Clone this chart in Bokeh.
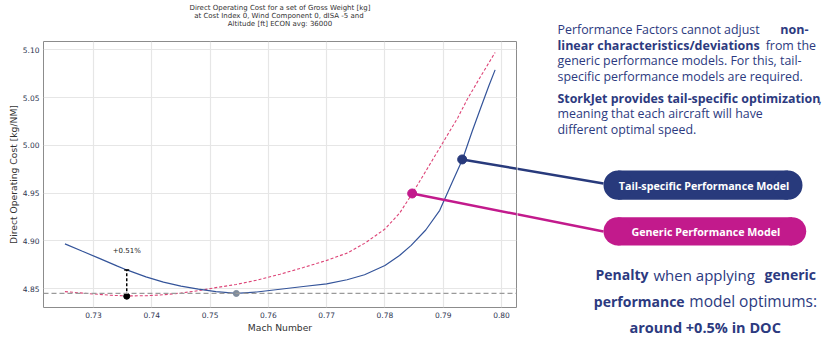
from bokeh.plotting import figure
from bokeh.layouts import row, column
from bokeh.models import Range1d, FixedTicker, PrintfTickFormatter, Span
from bokeh.core.properties import value
from bokeh.embed import file_html
from bokeh.resources import INLINE

# ---------------- data ----------------
mach_tail = [0.7251, 0.7280, 0.7310, 0.7340, 0.7357, 0.7390, 0.7420, 0.7450, 0.7480,
             0.7510, 0.7545, 0.7580, 0.7620, 0.7660, 0.7700, 0.7735, 0.7765, 0.7800,
             0.7825, 0.7845, 0.7870, 0.7894, 0.7915, 0.7933, 0.7950, 0.7965, 0.7978, 0.7989]
doc_tail = [4.8970, 4.8895, 4.8818, 4.8740, 4.8697, 4.8625, 4.8569, 4.8528, 4.8497,
            4.8470, 4.8451, 4.8466, 4.8495, 4.8524, 4.8552, 4.8594, 4.8647, 4.8744,
            4.8848, 4.8954, 4.9115, 4.9321, 4.9610, 4.9853, 5.0153, 5.0405, 5.0619, 5.0790]

mach_generic = [0.7251, 0.7290, 0.7330, 0.7357, 0.7390, 0.7420, 0.7450, 0.7480, 0.7510,
                0.7545, 0.7580, 0.7620, 0.7660, 0.7700, 0.7735, 0.7765, 0.7800, 0.7825,
                0.7847, 0.7870, 0.7900, 0.7925, 0.7941, 0.7965, 0.7989]
doc_generic = [4.8470, 4.8450, 4.8432, 4.8425, 4.8427, 4.8437, 4.8455, 4.8480, 4.8512,
               4.8545, 4.8590, 4.8652, 4.8722, 4.8797, 4.8873, 4.8975, 4.9125, 4.9290,
               4.9497, 4.9730, 5.0035, 5.0290, 5.0480, 5.0730, 5.0972]

x_ticks = [0.73, 0.74, 0.75, 0.76, 0.77, 0.78, 0.79, 0.80]
y_ticks = [4.85, 4.90, 4.95, 5.00, 5.05, 5.10]
x_limits = (0.72142, 0.80257)
y_limits = (4.8304, 5.1087)

tail_opt = (0.7545, 4.8451)            # optimum of tail-specific model
generic_opt = (0.7357, 4.8422)         # optimum of generic model
tail_doc_at_generic_opt = 4.8697       # tail DOC when flying the generic optimum
penalty_text = "+0.51%"
tail_callout = (0.79325, 4.9853)
generic_callout = (0.78467, 4.9497)

title_lines = ["Direct Operating Cost for a set of Gross Weight [kg]",
               "at Cost Index 0,  Wind Component 0, dISA -5 and",
               "Altitude [ft] ECON avg: 36000"]

pill_labels = ["Tail-specific Performance Model", "Generic Performance Model"]

# (text, bold, anchor x px, centre y px, size px, align)
info_segments = [
    ("Performance Factors cannot adjust", False, 557, 29.3, 12.4, "left"),
    ("non-", True, 808, 29.3, 12.5, "right"),
    ("linear characteristics/deviations", True, 557, 44.5, 12.5, "left"),
    ("from the", False, 815.5, 44.5, 12.4, "right"),
    ("generic performance models. For this, tail-", False, 557, 60, 12.4, "left"),
    ("specific performance models are required.", False, 557, 75.5, 12.4, "left"),
    ("StorkJet provides tail-specific optimization", True, 557, 98, 12.4, "left"),
    (",", False, 818, 98, 12.4, "left"),
    ("meaning that each aircraft will have", False, 557, 113, 12.4, "left"),
    ("different optimal speed.", False, 557, 128.5, 12.4, "left"),
    ("Penalty", True, 595, 274, 14, "left"),
    ("when applying", False, 653, 274, 15, "left"),
    ("generic", True, 815.5, 274, 14, "right"),
    ("performance", True, 593.3, 300.7, 14, "left"),
    ("model optimums:", False, 816.5, 300.7, 15.5, "right"),
    ("around +0.5% in DOC", True, 704.7, 326.7, 14.5, "center"),
]

# ---------------- styles / geometry ----------------
NAVY = "#283a7c"
MAGENTA = "#c21a8c"
TXT = "#2c3a80"
BLUE_LINE = "#34549a"
RED_LINE = "#dd4477"

W, H = 823, 339
TITLE_H = 40
FL, FR, FT, FB = 43, 516, 41, 307      # chart frame edges, page pixels
CHART_W = FR + 1
PANEL_X0 = CHART_W


def x2sx(x):
    return FL + (x - x_limits[0]) / (x_limits[1] - x_limits[0]) * (FR - FL)


def y2sy(y):
    return FB - (y - y_limits[0]) / (y_limits[1] - y_limits[0]) * (FB - FT)


def sx2x(sx):
    return x_limits[0] + (sx - FL) / (FR - FL) * (x_limits[1] - x_limits[0])


def sy2y(sy):
    return y_limits[0] + (FB - sy) / (FB - FT) * (y_limits[1] - y_limits[0])


def blank(width, height, left=0, right=None):
    right = width if right is None else right
    f = figure(width=width, height=height, output_backend="svg", toolbar_location=None,
               x_range=Range1d(left, right), y_range=Range1d(height, 0),
               x_axis_location=None, y_axis_location=None,
               min_border_left=left, min_border_right=width - right,
               min_border_top=0, min_border_bottom=0,
               background_fill_color="white", border_fill_color="white")
    f.grid.visible = False
    f.outline_line_color = None
    return f


# ---------------- title strip (frame aligned with the chart frame) ----------------
tf = blank(CHART_W, TITLE_H, left=FL, right=FR)
tf.text(x=[279.5] * 3, y=[7.3, 15.3, 23.3], text=title_lines, text_align="center",
        text_baseline="middle", text_font=value("DejaVu Sans"), text_font_size="7px",
        text_color="#333333")

# ---------------- chart ----------------
p = figure(width=CHART_W, height=H - TITLE_H, output_backend="svg", toolbar_location=None,
           x_range=Range1d(*x_limits), y_range=Range1d(*y_limits),
           min_border_left=FL, min_border_right=CHART_W - FR, min_border_top=FT - TITLE_H,
           min_border_bottom=H - FB, background_fill_color="white",
           border_fill_color="white")

p.outline_line_color = "#8c8c8c"
p.outline_line_width = 1
for g in (p.xgrid, p.ygrid):
    g.grid_line_color = "#e6e6e6"
    g.grid_line_width = 1.2

p.xaxis.ticker = FixedTicker(ticks=x_ticks)
p.yaxis.ticker = FixedTicker(ticks=y_ticks)
p.xaxis.formatter = PrintfTickFormatter(format="%.2f")
p.yaxis.formatter = PrintfTickFormatter(format="%.2f")
for ax in (p.xaxis, p.yaxis):
    ax.axis_line_color = None
    ax.major_tick_line_color = None
    ax.minor_tick_line_color = None
    ax.major_tick_out = 0
    ax.major_label_text_font = "DejaVu Sans"
    ax.major_label_text_font_size = "7.5px"
    ax.major_label_text_color = "#2e3450"
    ax.axis_label_text_font = "DejaVu Sans"
    ax.axis_label_text_font_size = "9.2px"
    ax.axis_label_text_font_style = "normal"
    ax.axis_label_text_color = "#333333"
p.xaxis.major_label_standoff = 4
p.yaxis.major_label_standoff = 4
p.xaxis.axis_label_standoff = 1
p.yaxis.axis_label_standoff = 1
p.xaxis.axis_label = "Mach Number"
p.yaxis.axis_label = "Direct Operating Cost [kg/NM]"

p.line(mach_generic, doc_generic, line_color=RED_LINE, line_width=1.1, line_dash="3 2")
p.line(mach_tail, doc_tail, line_color=BLUE_LINE, line_width=1.2)

p.add_layout(Span(location=tail_opt[1], dimension="width", line_color="#9a9a9a",
                  line_width=1.2, line_dash="5 3"))
p.scatter([tail_opt[0]], [tail_opt[1]], size=6, color="#7f8c9c")

p.segment(x0=[generic_opt[0]], y0=[generic_opt[1]], x1=[generic_opt[0]],
          y1=[tail_doc_at_generic_opt], line_color="black", line_width=1.5, line_dash="3 2")
p.scatter([generic_opt[0]], [generic_opt[1]], size=6, color="black")
p.scatter([generic_opt[0]], [tail_doc_at_generic_opt], size=5, marker="dash",
          line_color="black", line_width=1.6)
p.text(x=[generic_opt[0]], y=[sy2y(250.7)], text=[penalty_text], text_align="center",
       text_baseline="middle", text_font=value("DejaVu Sans"), text_font_size="7px",
       text_color="#222222")

# connector targets (page pixels, at the pills' left edge)
targets = [(603, 183), (603, 231)]
callouts = [tail_callout, generic_callout]
colors = [NAVY, MAGENTA]

for (tx, ty), (cx, cy), c in zip(targets, callouts, colors):
    p.segment(x0=[cx], y0=[cy], x1=[sx2x(tx)], y1=[sy2y(ty)], line_color=c, line_width=2.5)
for (cx, cy), c in zip(callouts, colors):
    p.scatter([cx], [cy], size=9, color=c)

# ---------------- right panel ----------------
q = blank(W - PANEL_X0, H)

for (tx, ty), (cx, cy), c in zip(targets, callouts, colors):
    q.segment(x0=[x2sx(cx) - PANEL_X0], y0=[y2sy(cy)], x1=[tx - PANEL_X0], y1=[ty],
              line_color=c, line_width=2.5)

pills = [(603, 802, 170, 199.3), (603, 805.7, 216.7, 245)]
for (l, r, t, b), c in zip(pills, colors):
    rad = (b - t) / 2
    l -= PANEL_X0
    r -= PANEL_X0
    q.quad(left=[l + rad], right=[r - rad], top=[t], bottom=[b], fill_color=c, line_color=None)
    q.circle(x=[l + rad, r - rad], y=[t + rad, t + rad], radius=rad, fill_color=c,
             line_color=None)
for (l, r, t, b), s in zip(pills, pill_labels):
    q.text(x=[(l + r) / 2 - PANEL_X0 + 1], y=[(t + b) / 2 + 0.5], text=[s], text_align="center",
           text_baseline="middle", text_font=value("Open Sans"), text_font_style="bold",
           text_font_size="10.7px", text_color="white")

for s, bold, sx, sy, size, align in info_segments:
    q.text(x=[sx - PANEL_X0], y=[sy], text=[s], text_align=align, text_baseline="middle",
           text_font=value("Open Sans"), text_font_style="bold" if bold else "normal",
           text_font_size=f"{size}px", text_color=TXT)

layout = row(column(tf, p), q)
open("out.html", "w").write(file_html(layout, INLINE))
